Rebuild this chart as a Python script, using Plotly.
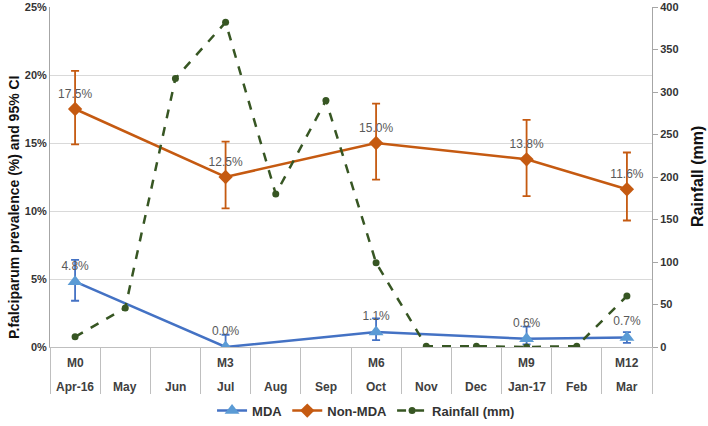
import plotly.graph_objects as go

months = ["Apr-16", "May", "Jun", "Jul", "Aug", "Sep", "Oct", "Nov", "Dec", "Jan-17", "Feb", "Mar"]
survey = ["M0", "", "", "M3", "", "", "M6", "", "", "M9", "", "M12"]

mda = [4.8, None, None, 0.0, None, None, 1.1, None, None, 0.6, None, 0.7]
mda_hi = [6.4, None, None, 0.9, None, None, 2.1, None, None, 1.5, None, 1.1]
mda_lo = [3.4, None, None, 0.0, None, None, 0.5, None, None, 0.2, None, 0.3]

non_mda = [17.5, None, None, 12.5, None, None, 15.0, None, None, 13.8, None, 11.6]
non_hi = [20.3, None, None, 15.1, None, None, 17.9, None, None, 16.7, None, 14.3]
non_lo = [14.9, None, None, 10.2, None, None, 12.3, None, None, 11.1, None, 9.3]

rainfall = [12, 46, 316, 382, 180, 290, 99, 1, 1, 0, 1, 60]

pct_ticks = [0, 5, 10, 15, 20, 25]
rain_ticks = [0, 50, 100, 150, 200, 250, 300, 350, 400]

x = list(range(len(months)))

def err(v, hi, lo):
    up = [None if a is None else h - a for a, h in zip(v, hi)]
    dn = [None if a is None else a - l for a, l in zip(v, lo)]
    return up, dn

def labels(v):
    return [None if a is None else f"{a:.1f}%" for a in v]

mda_up, mda_dn = err(mda, mda_hi, mda_lo)
non_up, non_dn = err(non_mda, non_hi, non_lo)

BLUE_L = "#4472C4"
BLUE_M = "#5B9BD5"
ORANGE = "#C55A11"
GREEN = "#375623"
TXT = "#595959"
FONT = "Liberation Sans, Arial"

fig = go.Figure()

fig.add_trace(go.Scatter(
    x=x, y=mda, name="MDA", mode="lines+markers+text", connectgaps=True,
    line=dict(color=BLUE_L, width=2.5),
    marker=dict(symbol="triangle-up", size=13, color=BLUE_M),
    error_y=dict(type="data", array=mda_up, arrayminus=mda_dn, symmetric=False,
                 color=BLUE_L, thickness=1.8, width=4),
    text=labels(mda), textposition="top center",
    textfont=dict(family=FONT, size=12, color=TXT),
))
fig.add_trace(go.Scatter(
    x=x, y=non_mda, name="Non-MDA", mode="lines+markers+text", connectgaps=True,
    line=dict(color=ORANGE, width=2.5),
    marker=dict(symbol="diamond", size=11, color=ORANGE),
    error_y=dict(type="data", array=non_up, arrayminus=non_dn, symmetric=False,
                 color=ORANGE, thickness=1.8, width=4),
    text=labels(non_mda), textposition="top center",
    textfont=dict(family=FONT, size=12, color=TXT),
))
fig.add_trace(go.Scatter(
    x=x, y=rainfall, name="Rainfall (mm)", mode="lines+markers", yaxis="y2",
    line=dict(color=GREEN, width=2.5, dash="dash"),
    marker=dict(symbol="circle", size=7, color=GREEN),
))

# category labels (two rows)
for i in x:
    if survey[i]:
        fig.add_annotation(x=i, y=0, xref="x", yref="paper", text=f"<b>{survey[i]}</b>",
                           showarrow=False, yanchor="middle", yshift=-16,
                           font=dict(family=FONT, size=12, color="#404040"))
    fig.add_annotation(x=i, y=0, xref="x", yref="paper", text=f"<b>{months[i]}</b>",
                       showarrow=False, yanchor="middle", yshift=-40,
                       font=dict(family=FONT, size=12, color="#404040"))

# axis titles
fig.add_annotation(x=0, y=0.5, xref="paper", yref="paper", xshift=-36, yshift=-30,
                   text="<b>P.falciparum prevalence (%) and 95% CI</b>", textangle=-90,
                   showarrow=False, xanchor="center", yanchor="middle",
                   font=dict(family=FONT, size=14, color="#111"))
fig.add_annotation(x=1, y=0.5, xref="paper", yref="paper", xshift=45,
                   text="<b>Rainfall (mm)</b>", textangle=-90,
                   showarrow=False, xanchor="center", yanchor="middle",
                   font=dict(family=FONT, size=16, color="#111"))

boundaries = [i - 0.5 for i in range(len(months) + 1)]

fig.update_layout(
    width=708, height=426,
    margin=dict(l=50, r=56, t=7, b=79, autoexpand=False),
    paper_bgcolor="white", plot_bgcolor="white",
    font=dict(family=FONT, color="#222"),
    showlegend=True,
    legend=dict(orientation="h", x=0.525, xanchor="center", y=-0.187, yanchor="middle",
                font=dict(size=13, color="#333", weight="bold"),
                traceorder="normal"),
    xaxis=dict(range=[-0.5, len(months) - 0.5], tickmode="array", tickvals=boundaries,
               showticklabels=False, ticks="outside", ticklen=46, tickcolor="#BFBFBF",
               tickwidth=1, showgrid=False, zeroline=False, showline=True,
               linecolor="#BFBFBF", linewidth=1, automargin=False),
    yaxis=dict(range=[0, 25.0001], tickmode="array", tickvals=pct_ticks,
               ticktext=[f"{t}%" for t in pct_ticks], ticklabeloverflow="allow",
               showgrid=True, gridcolor="#D9D9D9", automargin=False,
               zeroline=False, showline=True, linecolor="#A6A6A6", linewidth=1,
               tickfont=dict(size=11, color="#333", weight="bold")),
    yaxis2=dict(range=[0, 400.001], tickmode="array", tickvals=rain_ticks,
                ticklabeloverflow="allow",
                overlaying="y", side="right", showgrid=False, automargin=False,
                zeroline=False, showline=True, linecolor="#A6A6A6", linewidth=1,
                ticks="outside", ticklen=5, tickcolor="#A6A6A6",
                tickfont=dict(size=11, color="#333", weight="bold")),
)

fig.write_html("out.html", config={"displayModeBar": False},
               post_script="document.body.style.margin='0';document.body.style.padding='0';")
